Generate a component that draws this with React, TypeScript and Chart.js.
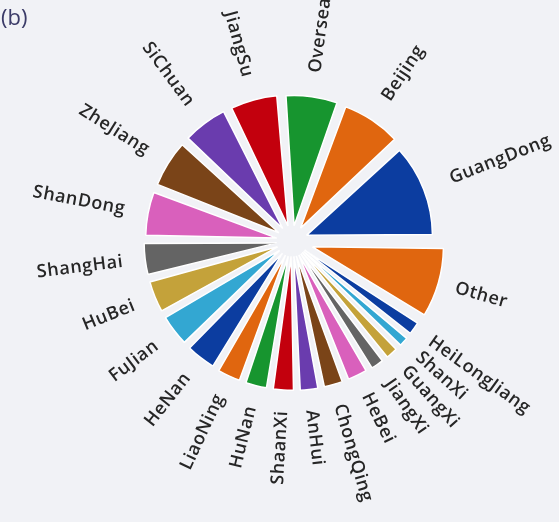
import React, { useEffect, useRef } from "react";
import { Chart, registerables } from "chart.js";

Chart.register(...registerables);

// Categories in the reference's counter-clockwise order, starting at 3 o'clock
const categories = [
  "GuangDong", "Beijing", "Overseas", "JiangSu", "SiChuan", "ZheJiang", "ShanDong",
  "ShangHai", "HuBei", "FuJian", "HeNan", "LiaoNing", "HuNan", "ShaanXi", "AnHui",
  "ChongQing", "HeBei", "JiangXi", "GuangXi", "ShanXi", "HeiLongJiang", "Other",
];
// Share of each category (percent)
const shares = [
  11.9, 7.6, 6.7, 6.1, 5.8, 6.1, 5.7,
  4.2, 4.2, 4.2, 4.0, 3.2, 3.0, 2.9, 2.6,
  2.7, 2.8, 2.0, 1.9, 1.6, 2.0, 8.9,
];
const palette = [
  "#0c3da0", "#e0660f", "#17952f", "#c3000d", "#6a3cae",
  "#7a4418", "#d960bc", "#646464", "#c4a23a", "#33a7d2",
];
const panelLabel = "(b)";

const OFFSET = 62;
const OTHER_OFFSET = 85;
const RADIUS = 121;
const LABEL_R = 170;

const radialLabels = {
  id: "radialLabels",
  afterDatasetsDraw(chart: any) {
    const meta = chart.getDatasetMeta(0);
    const ctx = chart.ctx as CanvasRenderingContext2D;
    const labels = chart.data.labels as string[];
    ctx.save();
    ctx.font = "600 18px 'Open Sans'";
    (ctx as any).letterSpacing = "0.6px";
    ctx.fillStyle = "#262626";
    ctx.textBaseline = "middle";
    meta.data.forEach((arc: any, i: number) => {
      const p = arc.getProps(["x", "y", "startAngle", "endAngle"], true);
      const mid = (p.startAngle + p.endAngle) / 2;
      const px = p.x + Math.cos(mid) * LABEL_R;
      const py = p.y + Math.sin(mid) * LABEL_R;
      ctx.save();
      ctx.translate(px, py);
      if (Math.cos(mid) >= -0.0001) {
        ctx.rotate(mid);
        ctx.textAlign = "left";
      } else {
        ctx.rotate(mid + Math.PI);
        ctx.textAlign = "right";
      }
      ctx.fillText(labels[i], 0, 0);
      ctx.restore();
    });
    ctx.restore();
  },
};

export default function App() {
  const ref = useRef<HTMLCanvasElement | null>(null);
  useEffect(() => {
    if (!ref.current) return;
    // Chart.js draws clockwise; reverse so the reference's counter-clockwise order appears
    const labels = [...categories].reverse();
    const data = [...shares].reverse();
    const colors = categories.map((_, i) => palette[i % palette.length]).reverse();
    const chart = new Chart(ref.current, {
      type: "pie",
      data: {
        labels,
        datasets: [
          {
            data,
            backgroundColor: colors,
            borderColor: "#ffffff",
            borderWidth: 1.5,
            offset: (c: any) => (labels[c.dataIndex] === "Other" ? OTHER_OFFSET : OFFSET),
          },
        ],
      },
      options: {
        animation: false,
        responsive: false,
        radius: RADIUS,
        rotation: 90,
        layout: { padding: { left: 92, right: 67, top: 41, bottom: 81 } },
        plugins: {
          legend: { display: false },
          tooltip: { enabled: false },
        },
      },
      plugins: [radialLabels],
    });
    return () => chart.destroy();
  }, []);

  return (
    <div
      style={{
        position: "absolute",
        left: 0,
        top: 0,
        width: 559,
        height: 522,
        background: "#f1f2f6",
        overflow: "hidden",
      }}
    >
      <canvas ref={ref} width={559} height={522} style={{ position: "absolute", left: 0, top: 0, width: 559, height: 522 }} />
      <div
        style={{
          position: "absolute",
          left: 1,
          top: 1,
          fontFamily: "'Open Sans', sans-serif",
          fontSize: 22,
          color: "#3b3b68",
        }}
      >
        {panelLabel}
      </div>
    </div>
  );
}
